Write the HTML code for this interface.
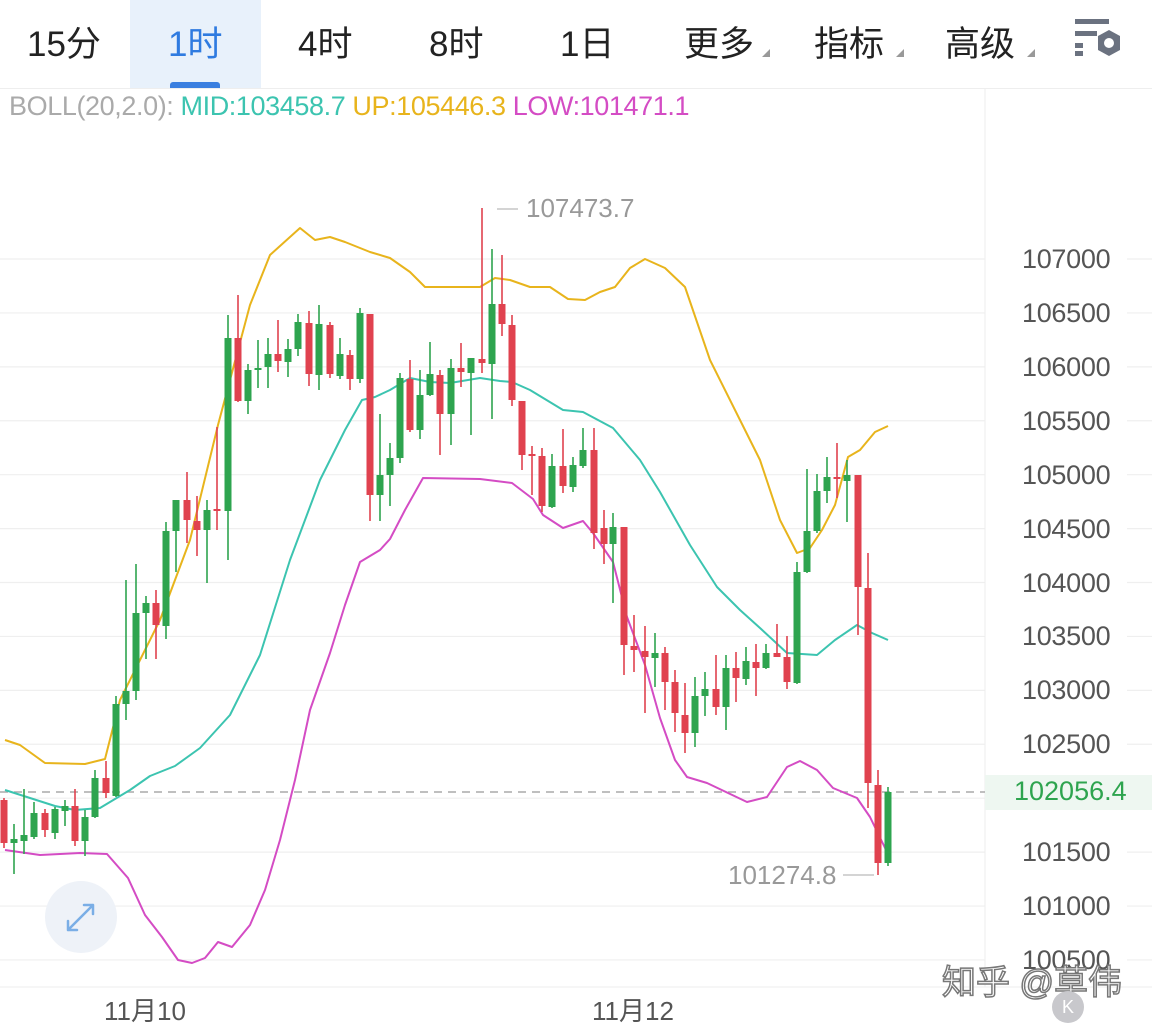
<!DOCTYPE html>
<html><head><meta charset="utf-8"><style>
html,body{margin:0;padding:0;background:#fff;width:1152px;height:1023px;overflow:hidden;font-family:"Liberation Sans","Noto Sans CJK SC",sans-serif}
.tab{position:absolute;top:16px;font-size:35px;color:#222;}
.tri{position:absolute;width:0;height:0;border-left:8px solid transparent;border-bottom:8px solid #999;}
</style></head><body>
<div style="position:absolute;left:130px;top:0;width:131px;height:88px;background:#e8f1fb"></div>
<div style="position:absolute;left:170px;top:82px;width:50px;height:6px;background:#3a7fe0;border-radius:3px 3px 0 0"></div>
<div class="tab" style="left:27px">15分</div>
<div class="tab" style="left:168px;color:#2f7be0">1时</div>
<div class="tab" style="left:298px">4时</div>
<div class="tab" style="left:429px">8时</div>
<div class="tab" style="left:560px">1日</div>
<div class="tab" style="left:684px">更多</div><div class="tri" style="left:762px;top:49px"></div>
<div class="tab" style="left:814px">指标</div><div class="tri" style="left:896px;top:49px"></div>
<div class="tab" style="left:945px">高级</div><div class="tri" style="left:1027px;top:49px"></div>
<svg style="position:absolute;left:1072px;top:18px" width="54" height="40"><rect x="3" y="1" width="34" height="5" fill="#6b7280"/><rect x="3" y="13" width="22" height="5" fill="#6b7280"/><rect x="3" y="25" width="8" height="5" fill="#6b7280"/><rect x="3" y="33" width="8" height="5" fill="#6b7280"/><polygon points="37,12 48,18 48,32 37,38 26,32 26,18" fill="#6b7280"/><circle cx="37" cy="25" r="5" fill="#fff"/></svg>
<div style="position:absolute;left:0;top:88px;width:1152px;height:1px;background:#eee"></div>
<div style="position:absolute;left:9px;top:91px;font-size:27px;white-space:nowrap;letter-spacing:-0.4px"><span style="color:#aaa">BOLL(20,2.0): </span><span style="color:#3cc4b0">MID:103458.7 </span><span style="color:#e8b41c">UP:105446.3 </span><span style="color:#d44cc4">LOW:101471.1</span></div>
<svg id="c" style="position:absolute;left:0;top:0" width="1152" height="1023"></svg>
<div id="lab"></div>
<div style="position:absolute;left:985px;top:775px;width:167px;height:35px;background:#eef7f1"></div>
<div style="position:absolute;left:1014px;top:776px;font-size:27px;color:#2ea44f">102056.4</div>
<div style="position:absolute;left:526px;top:193px;font-size:26px;color:#999">107473.7</div>
<div style="position:absolute;left:728px;top:860px;font-size:26px;color:#999">101274.8</div>
<div style="position:absolute;left:104px;top:991px;font-size:26px;color:#555">11月10</div>
<div style="position:absolute;left:592px;top:991px;font-size:26px;color:#555">11月12</div>
<div style="position:absolute;left:942px;top:955px;font-size:34px;color:#fff;-webkit-text-stroke:1.5px #777;white-space:nowrap">知乎 @草伟</div>
<div style="position:absolute;left:1052px;top:991px;width:32px;height:32px;border-radius:16px;background:#c8c8cc;color:#fff;font-size:18px;text-align:center;line-height:32px">K</div>
<script>
var s='';
function yp(p){return 259+(107000-p)/500*53.92;}
var lab='';
for(var p=100500;p<=107000;p+=500){var y=yp(p);
 s+='<line x1="0" x2="985" y1="'+y+'" y2="'+y+'" stroke="#efefef" stroke-width="1.2"/>';
 s+='<line x1="1127" x2="1152" y1="'+y+'" y2="'+y+'" stroke="#efefef" stroke-width="1.2"/>';
 lab+='<div style="position:absolute;left:1022px;top:'+(y-15)+'px;font-size:27px;color:#555;letter-spacing:-0.3px">'+p+'</div>';}
document.getElementById('lab').innerHTML=lab;
s+='<line x1="985" x2="985" y1="88" y2="987" stroke="#eee"/>';
s+='<line x1="0" x2="1152" y1="987" y2="987" stroke="#eee"/>';
s+='<line x1="0" x2="985" y1="792" y2="792" stroke="#aaa" stroke-width="1.5" stroke-dasharray="8,6"/>';
s+='<line x1="497" x2="518" y1="209" y2="209" stroke="#aaa"/><line x1="843" x2="874" y1="875" y2="875" stroke="#aaa"/>';
function pl(pts,c){return '<polyline fill="none" stroke="'+c+'" stroke-width="2" stroke-linejoin="round" points="'+pts.map(function(a){return a.join(',')}).join(' ')+'"/>';}
var up=[[5,740],[20,745],[45,763],[85,764],[105,759],[120,700],[160,620],[190,540],[218,425],[250,305],[270,255],[300,228],[315,240],[330,237],[345,242],[370,252],[390,258],[410,272],[425,287],[480,287],[495,278],[510,280],[530,287],[550,287],[568,299],[585,300],[600,292],[615,287],[630,268],[645,259],[665,268],[685,287],[710,360],[740,420],[760,460],[780,520],[797,553],[810,548],[822,530],[835,505],[848,457],[860,450],[875,432],[888,426]];
var mid=[[5,790],[30,798],[55,806],[75,810],[100,808],[130,790],[150,776],[175,766],[200,748],[230,715],[260,655],[290,560],[320,480],[345,430],[362,400],[375,397],[390,390],[410,378],[430,382],[450,383],[480,378],[500,381],[512,382],[530,390],[563,410],[583,412],[613,428],[640,460],[660,492],[690,545],[717,587],[740,610],[760,628],[787,653],[817,655],[835,640],[857,625],[872,633],[888,640]];
var low=[[5,850],[40,855],[80,853],[107,854],[128,878],[145,915],[162,937],[178,960],[192,963],[205,958],[218,942],[232,947],[250,925],[265,890],[280,840],[295,780],[310,710],[330,653],[345,605],[360,562],[380,550],[390,539],[405,510],[423,478],[480,479],[512,483],[533,499],[543,515],[563,528],[583,521],[593,533],[613,562],[627,617],[645,665],[660,718],[675,760],[687,777],[707,783],[747,802],[767,797],[787,767],[800,761],[817,770],[833,788],[857,798],[870,817],[887,852]];
s+=pl(up,'#e8b41c')+pl(mid,'#3cc4b0')+pl(low,'#d44cc4');
var C=[[4,800,843,798,848,'r'],[14,839,843,824,874,'g'],[24,835,841,789,854,'g'],[34,813,837,802,839,'g'],[45,813,830,809,837,'r'],[55,809,833,807,839,'g'],[65,806,811,800,826,'g'],[75,806,841,789,846,'r'],[85,817,841,810,856,'g'],[95,778,817,770,818,'g'],[106,778,793,761,798,'r'],[116,704,796,696,797,'g'],[126,691,704,580,720,'g'],[136,613,691,564,700,'g'],[146,603,613,596,659,'g'],[156,603,625,590,659,'r'],[166,531,626,522,639,'g'],[176,500,531,500,572,'g'],[187,500,520,472,543,'r'],[197,521,530,496,556,'r'],[207,510,530,500,583,'g'],[217,509,511,427,530,'r'],[228,338,511,315,560,'g'],[238,338,401,295,402,'r'],[248,370,401,364,414,'g'],[258,368,370,340,388,'g'],[268,354,367,338,388,'g'],[278,354,361,320,372,'r'],[288,349,362,339,377,'g'],[298,322,349,314,356,'g'],[309,323,374,311,386,'r'],[319,324,375,305,390,'g'],[330,325,374,322,378,'r'],[340,354,376,338,379,'g'],[350,355,379,350,390,'r'],[360,313,379,308,383,'g'],[370,314,495,314,521,'r'],[380,475,495,414,521,'g'],[390,458,475,443,506,'g'],[400,378,458,373,463,'g'],[410,379,430,360,432,'r'],[420,395,430,370,439,'g'],[430,374,395,342,396,'g'],[440,375,414,370,455,'r'],[451,368,414,359,445,'g'],[461,368,372,343,387,'r'],[471,358,373,358,435,'g'],[482,359,363,208,373,'r'],[492,304,364,249,419,'g'],[502,304,324,255,336,'r'],[512,325,400,315,406,'r'],[522,401,455,401,470,'r'],[532,454,456,446,495,'r'],[542,456,506,448,512,'r'],[552,466,507,454,508,'g'],[563,466,486,429,493,'r'],[573,465,487,457,492,'g'],[583,450,466,428,468,'g'],[594,450,533,428,549,'r'],[604,528,544,510,564,'r'],[613,527,544,513,603,'g'],[624,527,645,527,675,'r'],[634,646,650,615,672,'r'],[645,651,657,626,713,'r'],[655,653,658,633,687,'g'],[665,653,682,647,710,'r'],[675,682,713,670,732,'r'],[685,715,733,683,753,'r'],[695,696,733,677,747,'g'],[705,689,696,672,716,'g'],[716,689,707,655,715,'r'],[726,668,707,655,730,'g'],[736,668,678,652,702,'r'],[746,661,679,647,685,'g'],[756,662,668,644,696,'r'],[766,653,668,644,669,'g'],[777,653,657,624,657,'r'],[787,657,682,636,689,'r'],[797,572,683,562,684,'g'],[807,531,572,469,573,'g'],[817,491,531,474,533,'g'],[827,477,491,457,503,'g'],[837,477,479,443,498,'r'],[847,475,481,460,522,'g'],[858,475,587,475,635,'r'],[868,588,783,553,808,'r'],[878,785,863,770,875,'r'],[888,792,863,787,866,'g']];
C.forEach(function(c){var col=c[5]=='r'?'#e0424f':'#2ea44f';
 s+='<line x1="'+c[0]+'" x2="'+c[0]+'" y1="'+c[3]+'" y2="'+c[4]+'" stroke="'+col+'" stroke-width="1.6"/>';
 s+='<rect x="'+(c[0]-3.5)+'" y="'+c[1]+'" width="7" height="'+Math.max(2,c[2]-c[1])+'" fill="'+col+'"/>';});
s+='<circle cx="81" cy="917" r="36" fill="#eef2f8"/><path d="M68 930 L93 905 M93 905 h-9 M93 905 v9 M68 930 h9 M68 930 v-9" stroke="#7aaee6" stroke-width="2.5" fill="none" stroke-linecap="round"/>';
document.getElementById('c').innerHTML=s;
</script>
</body></html>
